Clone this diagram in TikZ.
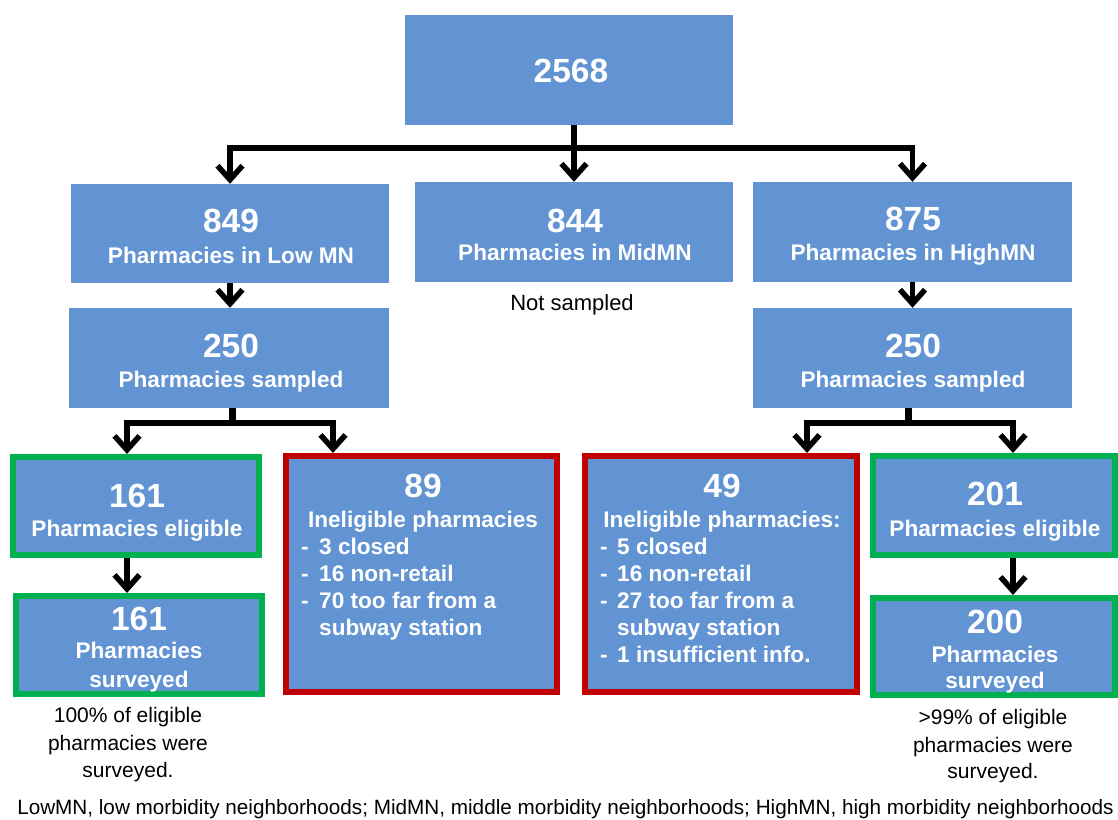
\documentclass[tikz,border=0pt]{standalone}
\usepackage{fontspec}
\setmainfont{Liberation Sans}
\usetikzlibrary{arrows.meta}

\definecolor{boxblue}{RGB}{98,148,212}
\definecolor{okgreen}{RGB}{0,176,80}
\definecolor{badred}{RGB}{192,0,0}

\tikzset{
  box/.style={rectangle, fill=boxblue, draw=none, inner sep=0pt},
  greenbox/.style={box, draw=okgreen, line width=6pt},
  redbox/.style={box, draw=badred, line width=6pt},
  num/.style={text=white, inner sep=0pt, anchor=base, font=\bfseries\fontsize{33.5}{36}\selectfont},
  lbl/.style={text=white, inner sep=0pt, anchor=base, font=\bfseries\fontsize{22.6}{26}\selectfont},
  item/.style={lbl, anchor=base west},
  note/.style={text=black, inner sep=0pt, anchor=base, font=\fontsize{21}{24}\selectfont},
  link/.style={line width=5.5pt, draw=black},
  stem/.style={line width=7pt, draw=black},
  arr/.style={link, -{Straight Barb[length=14pt,width=25pt]}},
}

\begin{document}
\begin{tikzpicture}[x=1pt,y=-1pt]
\useasboundingbox (0,0) rectangle (1118,819);

% ---- boxes ----
\node[box, minimum width=328pt, minimum height=110pt] (top)  at (569,70) {};
\node[box, minimum width=318pt, minimum height=99pt]  (low)  at (230,233.5) {};
\node[box, minimum width=318pt, minimum height=100pt] (mid)  at (574,232) {};
\node[box, minimum width=319pt, minimum height=100pt] (high) at (912.5,232) {};
\node[box, minimum width=320pt, minimum height=100pt] (lows)  at (229,358) {};
\node[box, minimum width=319pt, minimum height=100pt] (highs) at (912.5,358) {};

\node[greenbox, minimum width=246pt, minimum height=98pt]  (e161) at (136,506) {};
\node[greenbox, minimum width=246pt, minimum height=98pt]  (s161) at (139,645) {};
\node[redbox,   minimum width=271pt, minimum height=236pt] (in89) at (421.5,574) {};
\node[redbox,   minimum width=272pt, minimum height=236pt] (in49) at (721,574) {};
\node[greenbox, minimum width=242pt, minimum height=99pt]  (e201) at (994,505.5) {};
\node[greenbox, minimum width=242pt, minimum height=97pt]  (s200) at (994,646.5) {};

% ---- connectors ----
\coordinate (j1) at (574,148);
\coordinate (j2) at (232,423);
\coordinate (j3) at (908,423);
\coordinate (lx)  at (127,0);
\coordinate (rx1) at (333,0);
\coordinate (rx2) at (807,0);
\coordinate (rx3) at (1013,0);

\draw[arr] (top.south -| mid.north) -- (mid.north);
\draw[arr] (j1) -| (low.north);
\draw[arr] (j1) -| (high.north);

\draw[arr] (low.south) -- (low.south |- lows.north);
\draw[arr] (high.south) -- (high.south |- highs.north);

\draw[stem] (lows.south -| j2) -- (j2);
\draw[arr] (j2) -| (lx |- e161.north);
\draw[arr] (j2) -| (rx1 |- in89.north);
\draw[arr] (lx |- e161.south) -- (lx |- s161.north);

\draw[stem] (highs.south -| j3) -- (j3);
\draw[arr] (j3) -| (rx2 |- in49.north);
\draw[arr] (j3) -| (rx3 |- e201.north);
\draw[arr] (rx3 |- e201.south) -- (rx3 |- s200.north);

% ---- box texts ----
\node[num] (t2568) at (571,82) {2568};

\node[num] (n849) at (231,232) {849};
\node[lbl] (l849) at (231,263) {Pharmacies in Low MN};
\node[num] (n844) at (575,232) {844};
\node[lbl] (l844) at (575,260) {Pharmacies in MidMN};
\node[num] (n875) at (913,230) {875};
\node[lbl] (l875) at (913,260) {Pharmacies in HighMN};

\node[num] (n250a) at (231,357) {250};
\node[lbl] (l250a) at (231,387) {Pharmacies sampled};
\node[num] (n250b) at (913,357) {250};
\node[lbl] (l250b) at (913,387) {Pharmacies sampled};

\node[num] (n161a) at (137,507) {161};
\node[lbl] (l161a) at (137,536) {Pharmacies eligible};
\node[num] (n161b) at (139,630) {161};
\node[lbl] (l161b) at (139,658) {Pharmacies};
\node[lbl] (m161b) at (139,687) {surveyed};

\node[num] (n201) at (995,505) {201};
\node[lbl] (l201) at (995,536) {Pharmacies eligible};
\node[num] (n200) at (995,633) {200};
\node[lbl] (l200) at (995,662) {Pharmacies};
\node[lbl] (m200) at (995,688) {surveyed};

\node[num] (n89) at (423,497) {89};
\node[lbl] (h89) at (423,527) {Ineligible pharmacies};
\node[item] (d89a) at (301,554) {-};
\node[item] (i89a) at (319,554) {3 closed};
\node[item] (d89b) at (301,581) {-};
\node[item] (i89b) at (319,581) {16 non-retail};
\node[item] (d89c) at (301,608) {-};
\node[item] (i89c) at (319,608) {70 too far from a};
\node[item] (i89d) at (319,635) {subway station};

\node[num] (n49) at (722,497) {49};
\node[lbl] (h49) at (722,527) {Ineligible pharmacies:};
\node[item] (d49a) at (600,554) {-};
\node[item] (i49a) at (617,554) {5 closed};
\node[item] (d49b) at (600,581) {-};
\node[item] (i49b) at (617,581) {16 non-retail};
\node[item] (d49c) at (600,608) {-};
\node[item] (i49c) at (617,608) {27 too far from a};
\node[item] (i49d) at (617,635) {subway station};
\node[item] (d49e) at (600,662) {-};
\node[item] (i49e) at (617,662) {1 insufficient info.};

% ---- notes ----
\node[note, font=\fontsize{22}{26}\selectfont] (ns) at (572,310) {Not sampled};

\node[note] (pl1) at (128,722) {100\% of eligible};
\node[note] (pl2) at (128,750) {pharmacies were};
\node[note] (pl3) at (128,777) {surveyed.};

\node[note] (pr1) at (993,724) {>99\% of eligible};
\node[note] (pr2) at (993,752) {pharmacies were};
\node[note] (pr3) at (993,778) {surveyed.};

\node[note, font=\fontsize{20.7}{24}\selectfont] (foot) at (565.5,814)
  {LowMN, low morbidity neighborhoods; MidMN, middle morbidity neighborhoods; HighMN, high morbidity neighborhoods};
\end{tikzpicture}
\end{document}
